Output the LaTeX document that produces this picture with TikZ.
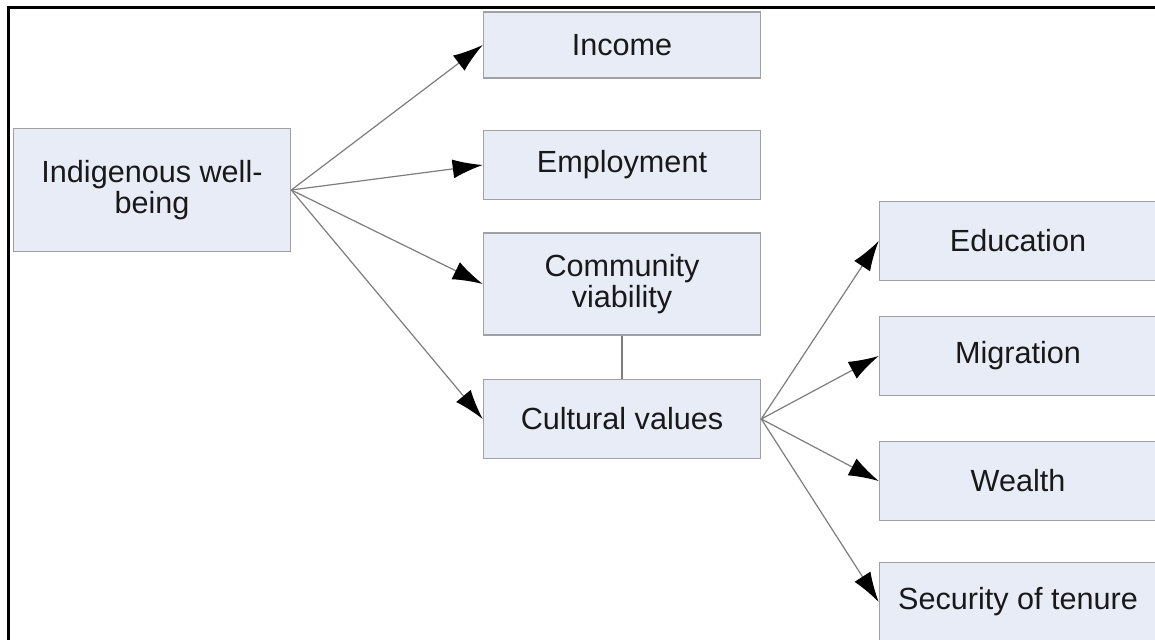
\documentclass[tikz,border=0pt]{standalone}
\usepackage{fontspec}
\setmainfont{Liberation Sans}
\usetikzlibrary{arrows.meta}
\definecolor{boxfill}{RGB}{232,236,246}
\definecolor{boxline}{RGB}{160,160,165}
\definecolor{linkgray}{RGB}{125,125,125}
\tikzset{>={Latex[length=15pt,width=9.5pt,color=black]}}

\begin{document}
\begin{tikzpicture}[x=0.5pt, y=-0.5pt,
  factor/.style={draw=boxline, fill=boxfill, line width=0.8pt, minimum width=138.5pt,
    minimum height=39.5pt, align=center, inner sep=0pt,
    font=\fontsize{15.3}{15.5}\selectfont, text=black!90},
  link/.style={->, draw=linkgray, line width=0.6pt}]
\useasboundingbox (0,0) rectangle (1155,640);
\draw[line width=1.5pt] (8,640) -- (8,8) -- (1155,8);

% left column
\node[factor, minimum height=61.5pt] (iwb) at (152,190) {Indigenous well-\\being};

% middle column
\node[factor, minimum height=33pt] (inc) at (622,45) {Income};
\node[factor, minimum height=34.5pt] (emp) at (622,165) {Employment};
\node[factor, minimum height=51pt] (com) at (622,284) {Community\\viability};
\node[factor] (cul) at (622,419) {Cultural values};

% right column
\node[factor] (edu) at (1018,241) {Education};
\node[factor] (mig) at (1018,356) {Migration};
\node[factor] (wea) at (1018,481) {Wealth};
\node[factor] (sec) at (1018,602) {Security of tenure};

\draw[link] (iwb.east) -- (inc.west);
\draw[link] (iwb.east) -- (emp.west);
\draw[link] (iwb.east) -- (com.west);
\draw[link] (iwb.east) -- (cul.west);
\draw[draw=linkgray, line width=0.6pt] (com) -- (cul);
\draw[link] (cul.east) -- (edu.west);
\draw[link] (cul.east) -- (mig.west);
\draw[link] (cul.east) -- (wea.west);
\draw[link] (cul.east) -- (sec.west);
\end{tikzpicture}
\end{document}
